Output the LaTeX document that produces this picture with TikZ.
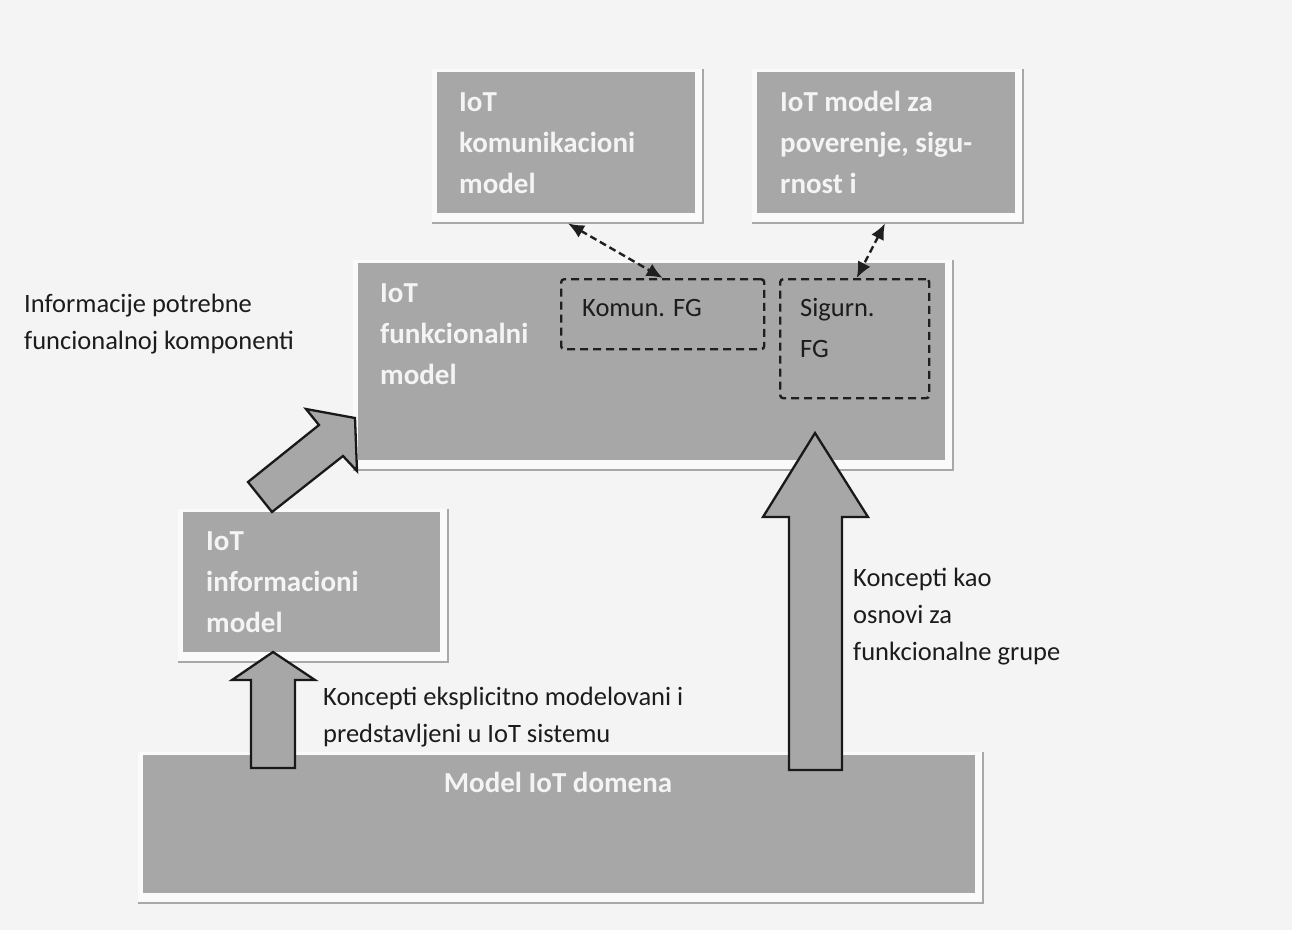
\documentclass[tikz,border=0pt]{standalone}
\usepackage{fontspec}
\setmainfont{Carlito}
\usetikzlibrary{arrows.meta,calc}
\definecolor{bgc}{HTML}{F4F4F4}
\definecolor{boxgray}{HTML}{A7A7A7}
\definecolor{framefill}{HTML}{FAFAFA}
\definecolor{framegray}{HTML}{A8A8A8}
\definecolor{boxtext}{HTML}{F4F4F4}
\definecolor{labeltext}{HTML}{1C1C1C}
\newcommand\modelbox[5]{%
  \fill[framefill] (#2-5,#3-3) rectangle (#4+8,#5+10);
  \draw[framegray, line width=2] (#4+8,#3-3) -- (#4+8,#5+10) -- (#2-5,#5+10);
  \node[mboxst, minimum width={#4-#2}, minimum height={#5-#3}, anchor=north west] (#1) at (#2,#3) {};}
\tikzset{
  mboxst/.style={fill=boxgray, draw=none, inner sep=0, rectangle},
  boxlabel/.style={text=boxtext, font=\fontsize{29}{41}\selectfont\bfseries, align=left, anchor=base west, inner sep=0},
  plainlabel/.style={text=labeltext, font=\fontsize{26.5}{37}\selectfont, align=left, anchor=base west, inner sep=0},
  fgbox/.style={draw=black!88, dash pattern=on 8pt off 5pt, line width=2.4, rounded corners=3, inner sep=0, rectangle},
  dasharrow/.style={draw=black!88, line width=2.4, dash pattern=on 7pt off 4pt, {Latex[length=16pt,width=14pt]}-{Latex[length=16pt,width=14pt]}},
  blockarrow/.style={fill=boxgray, draw=black!90, line width=2.3, line join=miter}
}
\begin{document}
\begin{tikzpicture}[x=1pt, y=-1pt]
\useasboundingbox[fill=bgc] (0,0) rectangle (1292,930);

% model boxes
\modelbox{komm}{437}{72}{695}{213}
\modelbox{trust}{757}{72}{1015}{213}
\modelbox{func}{358}{263}{945}{460}
\modelbox{info}{183}{512}{440}{652}
\modelbox{domain}{143}{755}{975}{893}

% box texts (anchor = baseline of last line)
\node[boxlabel] (kommt) at (459,193) {IoT\\komunikacioni\\model};
\node[boxlabel] (trustt) at (780,193) {IoT model za\\poverenje, sigu-\\rnost i};
\node[boxlabel] (funct) at (380,384) {IoT\\funkcionalni\\model};
\node[boxlabel] (infot) at (206,632) {IoT\\informacioni\\model};
\node[boxlabel, anchor=base] (domaint) at (558,792) {Model IoT domena};

% functional groups
\node[fgbox, minimum width=203, minimum height=70, anchor=north west] (kfg) at (560,278) {};
\node[fgbox, minimum width=149, minimum height=119, anchor=north west] (sfg) at (779,278) {};
\node[plainlabel] (kfgt) at (582,316) {Komun. FG};
\node[plainlabel, font=\fontsize{26.5}{41}\selectfont] (sfgt) at (800,357) {Sigurn.\\FG};

% dashed connectors
\coordinate (kommend) at ($(komm.south west)+(131,10)$);
\coordinate (trustend) at ($(trust.south west)+(128,10)$);
\draw[dasharrow] (kommend) -- (kfg.north);
\draw[dasharrow] (trustend) -- ($(sfg.north)+(2,0)$);

% block arrows
\draw[blockarrow] (272,512) -- (248,482) -- (319,425) -- (306,409) -- (355,418) -- (357,471) -- (343,456) -- cycle;
\draw[blockarrow] (251,768) -- (251,680) -- (232,680) -- (273,652) -- (315,680) -- (295,680) -- (295,768) -- cycle;
\draw[blockarrow] (789,770) -- (789,517) -- (763,517) -- (815,433) -- (868,517) -- (842,517) -- (842,770) -- cycle;

% plain labels (anchor = baseline of last line)
\node[plainlabel] (infoneed) at (24,349) {Informacije potrebne\\funcionalnoj komponenti};
\node[plainlabel] (explicit) at (323,742) {Koncepti eksplicitno modelovani i\\predstavljeni u IoT sistemu};
\node[plainlabel] (basis) at (853,660) {Koncepti kao\\osnovi za\\funkcionalne grupe};
\end{tikzpicture}
\end{document}
